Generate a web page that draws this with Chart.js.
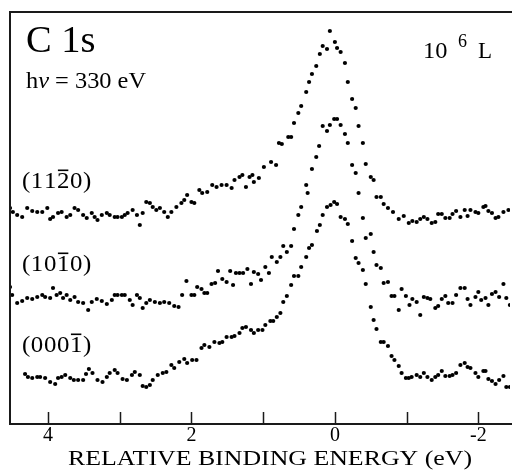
<!DOCTYPE html>
<html>
<head>
<meta charset="utf-8">
<script src="https://cdn.jsdelivr.net/npm/chart.js@4/dist/chart.umd.min.js"></script>
<style>
html,body{margin:0;padding:0;background:#fff;}
#wrap{width:512px;height:476px;}
</style>
</head>
<body>
<div id="wrap"><canvas id="c" width="512" height="476"></canvas></div>
<script>
// ---- data (binding energy in eV, intensity in arbitrary units) ----
const energy1120 = [4.53,4.49,4.43,4.36,4.29,4.22,4.15,4.08,4.01,3.97,3.93,3.86,3.81,3.74,3.69,3.63,3.58,3.51,3.46,3.39,3.35,3.31,3.25,3.18,3.14,3.07,3.03,2.97,2.93,2.89,2.82,2.76,2.72,2.68,2.63,2.58,2.54,2.49,2.44,2.38,2.33,2.28,2.21,2.14,2.10,2.06,2.00,1.96,1.89,1.85,1.78,1.71,1.65,1.58,1.51,1.44,1.40,1.33,1.29,1.24,1.19,1.15,1.13,1.06,0.99,0.89,0.82,0.78,0.74,0.65,0.61,0.57,0.51,0.47,0.40,0.36,0.32,0.26,0.21,0.17,0.11,0.07,0.00,-0.03,-0.08,-0.14,-0.18,-0.24,-0.29,-0.33,-0.39,-0.43,-0.50,-0.54,-0.58,-0.64,-0.68,-0.74,-0.81,-0.89,-0.96,-1.03,-1.08,-1.14,-1.19,-1.24,-1.29,-1.35,-1.40,-1.44,-1.49,-1.54,-1.60,-1.64,-1.69,-1.75,-1.81,-1.85,-1.89,-1.96,-2.00,-2.07,-2.10,-2.14,-2.19,-2.24,-2.28,-2.35,-2.42];
const intensity1120 = [216,212,209,207,216,213,212,212,216,205,207,211,212,207,209,216,214,209,206,211,207,204,209,211,209,207,207,207,209,211,214,209,199,211,222,221,217,214,216,212,207,212,217,221,224,229,222,221,234,231,232,239,237,239,239,236,244,247,249,237,247,249,242,246,257,262,259,281,280,287,287,301,311,318,332,342,350,358,370,378,375,393,382,376,372,361,342,325,316,298,281,260,247,244,227,227,220,216,212,205,208,201,203,202,205,207,205,201,202,210,210,206,206,210,213,207,214,208,214,212,211,217,218,213,211,206,207,212,214];

const energy1010 = [4.53,4.50,4.43,4.36,4.29,4.22,4.15,4.08,4.04,3.97,3.93,3.88,3.83,3.79,3.74,3.69,3.63,3.58,3.51,3.44,3.39,3.32,3.25,3.18,3.11,3.07,3.03,2.97,2.93,2.86,2.82,2.76,2.72,2.68,2.63,2.58,2.51,2.44,2.38,2.31,2.24,2.18,2.13,2.07,2.00,1.96,1.92,1.86,1.82,1.78,1.72,1.67,1.63,1.57,1.51,1.46,1.42,1.38,1.33,1.28,1.22,1.17,1.13,1.07,1.03,0.97,0.92,0.88,0.81,0.76,0.72,0.67,0.61,0.57,0.51,0.47,0.40,0.38,0.32,0.26,0.22,0.17,0.11,0.07,0.01,-0.03,-0.08,-0.14,-0.18,-0.24,-0.29,-0.33,-0.39,-0.43,-0.50,-0.54,-0.58,-0.64,-0.68,-0.74,-0.79,-0.83,-0.89,-0.93,-0.99,-1.04,-1.08,-1.14,-1.19,-1.24,-1.29,-1.33,-1.40,-1.44,-1.49,-1.54,-1.58,-1.64,-1.69,-1.75,-1.81,-1.85,-1.89,-1.96,-2.00,-2.04,-2.10,-2.14,-2.19,-2.24,-2.29,-2.35,-2.39,-2.44];
const intensity1010 = [137,129,121,123,126,125,127,129,127,126,136,129,131,126,129,124,127,122,121,114,122,125,123,120,124,129,129,129,129,124,119,129,126,116,121,124,122,121,122,121,118,117,129,143,129,129,137,135,131,131,140,141,153,145,142,153,139,151,151,151,155,140,152,150,144,157,151,167,162,167,178,172,178,195,209,217,239,231,255,267,278,298,293,299,305,305,299,290,281,259,251,231,206,186,190,172,159,156,141,142,128,128,114,135,128,119,125,122,109,127,126,125,116,118,125,128,121,121,129,136,136,125,119,127,132,124,126,119,130,132,127,140,126,119];

const energy0001 = [4.32,4.28,4.22,4.15,4.11,4.04,3.97,3.90,3.86,3.81,3.76,3.69,3.64,3.58,3.51,3.47,3.43,3.38,3.31,3.24,3.18,3.14,3.07,3.03,2.96,2.90,2.83,2.79,2.72,2.68,2.63,2.58,2.54,2.47,2.40,2.35,2.28,2.24,2.17,2.10,2.06,1.99,1.93,1.86,1.82,1.75,1.68,1.61,1.57,1.51,1.44,1.40,1.33,1.29,1.24,1.17,1.13,1.07,1.01,0.97,0.90,0.86,0.81,0.76,0.72,0.67,0.61,0.57,0.51,0.47,0.40,0.36,0.32,0.25,0.21,0.17,0.11,0.06,0.01,-0.03,-0.08,-0.14,-0.18,-0.24,-0.29,-0.33,-0.39,-0.43,-0.50,-0.54,-0.58,-0.64,-0.68,-0.74,-0.79,-0.83,-0.89,-0.93,-0.99,-1.03,-1.07,-1.14,-1.19,-1.24,-1.29,-1.35,-1.40,-1.44,-1.49,-1.54,-1.60,-1.64,-1.69,-1.75,-1.81,-1.85,-1.89,-1.96,-2.00,-2.07,-2.10,-2.14,-2.19,-2.24,-2.29,-2.35,-2.39,-2.44];
const intensity0001 = [50,47,46,47,47,46,42,40,46,47,49,46,44,44,44,50,55,51,44,42,47,51,54,51,45,44,49,52,49,38,37,39,44,49,51,52,59,56,62,65,61,64,64,76,79,77,82,81,82,87,87,88,91,96,97,94,91,94,94,99,103,103,107,111,122,128,139,148,148,157,167,176,179,193,199,209,217,219,222,220,207,205,200,183,166,161,154,140,117,104,95,82,82,78,68,64,58,51,46,46,47,49,47,51,47,44,47,49,53,48,48,49,51,59,61,57,56,51,47,53,53,45,43,40,44,48,37,37];

const tickValues = [4, 3, 2, 1, 0, -1, -2];
const tickLabels = ['4', '', '2', '', '0', '', '-2'];
const seriesLabels = ['(1120)', '(1010)', '(0001)'];
const seriesBarIndex = [3, 3, 4];   // character carrying the overbar
const xTitle = 'RELATIVE BINDING ENERGY (eV)';
const coreLevel = 'C 1s';
const photonEnergy = ['h', '\u03BD', ' = 330 eV'];
const exposure = ['10', '6', 'L'];

const SERIF = '"Liberation Serif", "Times New Roman", serif';

function toPoints(xs, ys) { return xs.map((x, i) => ({ x: x, y: ys[i] })); }

const dotStyle = { showLine: false, pointRadius: 2.1, pointHoverRadius: 2.1, pointBorderWidth: 0, pointBackgroundColor: '#000', borderColor: '#000', backgroundColor: '#000' };

function stretchedText(ctx, text, x, y, sx) {
  ctx.save();
  ctx.translate(x, y);
  ctx.scale(sx, 1);
  ctx.fillText(text, 0, 0);
  ctx.restore();
  return ctx.measureText(text).width * sx;
}

const decor = {
  id: 'decor',
  afterDraw(chart) {
    const ctx = chart.ctx, a = chart.chartArea, xs = chart.scales.x;
    ctx.save();
    // frame
    ctx.strokeStyle = '#1a1a1a';
    ctx.lineWidth = 2;
    ctx.beginPath();
    ctx.moveTo(a.left, a.bottom); ctx.lineTo(a.left, a.top); ctx.lineTo(a.right + 4, a.top);
    ctx.moveTo(a.left - 1, a.bottom); ctx.lineTo(a.right + 4, a.bottom);
    ctx.stroke();
    // inward ticks
    ctx.lineWidth = 1.5;
    ctx.beginPath();
    tickValues.forEach(v => {
      const px = Math.round(xs.getPixelForValue(v)) + 0.5;
      ctx.moveTo(px, a.bottom); ctx.lineTo(px, a.bottom - 12);
    });
    ctx.stroke();

    ctx.fillStyle = '#000';
    ctx.textBaseline = 'alphabetic';
    ctx.textAlign = 'left';
    // C 1s
    ctx.font = '37px ' + SERIF;
    stretchedText(ctx, coreLevel, 26, 52, 1.04);
    // h nu = 330 eV
    let x = 26;
    ctx.font = '23px ' + SERIF;
    x += stretchedText(ctx, photonEnergy[0], x, 88, 1.06);
    ctx.font = 'italic 23px ' + SERIF;
    x += stretchedText(ctx, photonEnergy[1], x, 88, 1.06);
    ctx.font = '23px ' + SERIF;
    stretchedText(ctx, photonEnergy[2], x, 88, 1.06);
    // 10^6 L
    ctx.font = '23px ' + SERIF;
    stretchedText(ctx, exposure[0], 423, 58, 1.06);
    ctx.font = '18px ' + SERIF;
    stretchedText(ctx, exposure[1], 458, 47, 1.0);
    ctx.font = '23px ' + SERIF;
    stretchedText(ctx, exposure[2], 478, 58, 1.0);

    // Miller index labels with overbar
    const baselines = [188, 271, 352];
    ctx.font = '23px ' + SERIF;
    seriesLabels.forEach((lab, k) => {
      let cx = 22;
      const by = baselines[k];
      for (let i = 0; i < lab.length; i++) {
        const ch = lab[i];
        const w = ctx.measureText(ch).width * 1.08;
        stretchedText(ctx, ch, cx, by, 1.08);
        if (i === seriesBarIndex[k]) {
          ctx.fillRect(cx + 1, by - 18.5, w - 2, 1.6);
        }
        cx += w + 0.6;
      }
    });

    // axis title
    ctx.font = '22px ' + SERIF;
    const tw = ctx.measureText(xTitle).width;
    const sx = 404 / tw;
    stretchedText(ctx, xTitle, 270 - 202, 465, sx);
    ctx.restore();
  }
};

new Chart(document.getElementById('c'), {
  type: 'scatter',
  data: {
    datasets: [
      Object.assign({ label: seriesLabels[0], data: toPoints(energy1120, intensity1120) }, dotStyle),
      Object.assign({ label: seriesLabels[1], data: toPoints(energy1010, intensity1010) }, dotStyle),
      Object.assign({ label: seriesLabels[2], data: toPoints(energy0001, intensity0001) }, dotStyle)
    ]
  },
  options: {
    responsive: false,
    animation: false,
    events: [],
    layout: { padding: { left: 10, top: 12, right: 0, bottom: 0 } },
    plugins: { legend: { display: false }, tooltip: { enabled: false } },
    scales: {
      x: {
        type: 'linear',
        reverse: true,
        min: -2.44,
        max: 4.53,
        position: 'bottom',
        afterBuildTicks: s => { s.ticks = tickValues.map(v => ({ value: v })); },
        afterFit: s => { s.height = 52; },
        grid: { display: false, drawTicks: false },
        border: { display: false },
        ticks: {
          autoSkip: false,
          maxRotation: 0,
          padding: 0,
          color: '#000',
          font: { family: SERIF, size: 20 },
          callback: (v) => { const i = tickValues.indexOf(v); return i >= 0 ? tickLabels[i] : ''; }
        },
        title: { display: false, text: xTitle }
      },
      y: { display: false, min: 0, max: 412 }
    }
  },
  plugins: [decor]
});
</script>
</body>
</html>
